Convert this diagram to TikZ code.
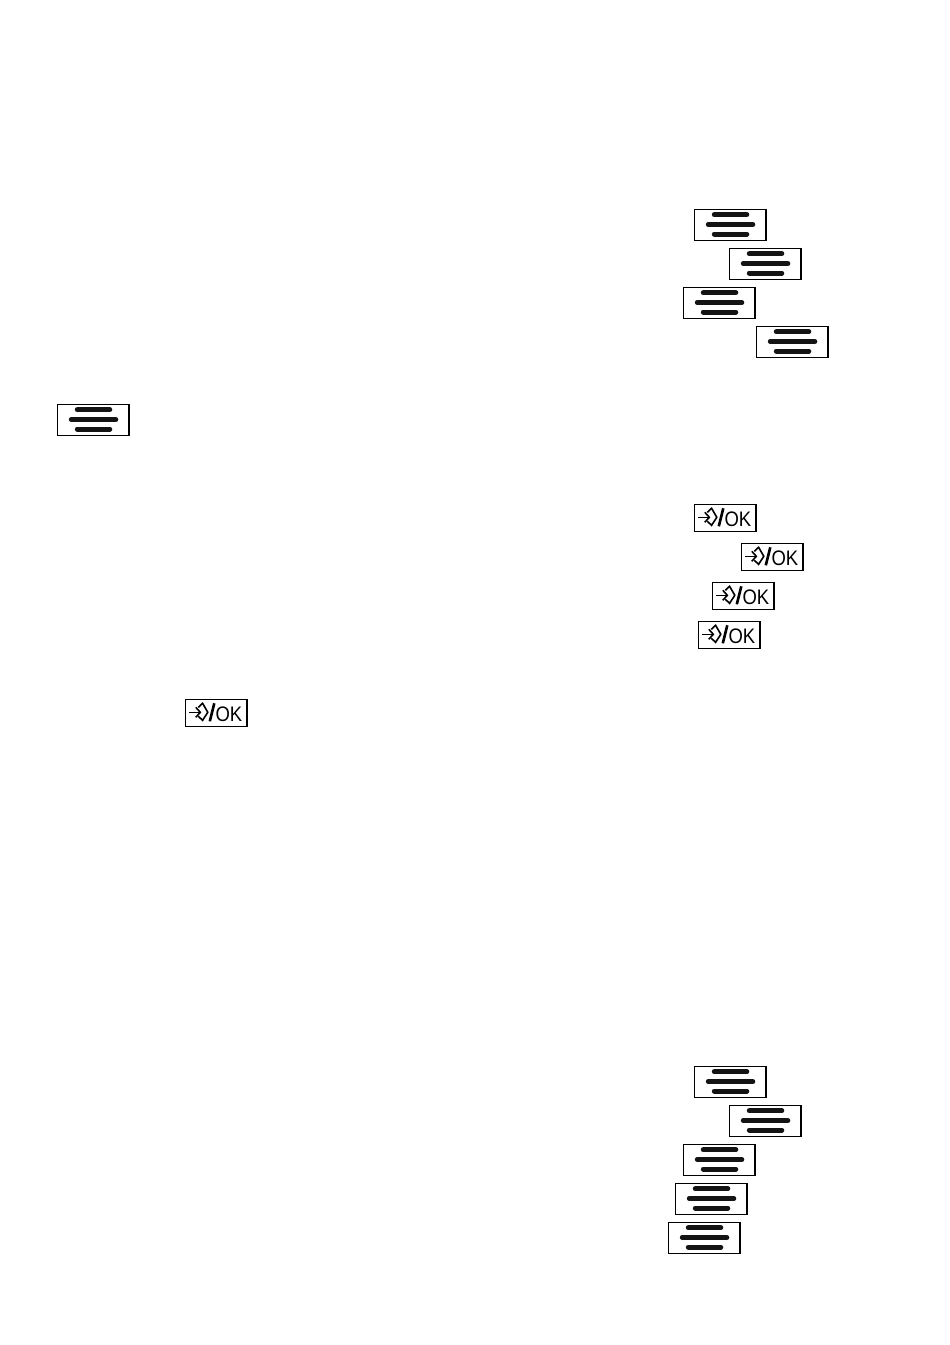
\documentclass[tikz,border=0pt]{standalone}
\usepackage{fontspec}
\setmainfont{Liberation Sans}
\newfontfamily\okfont[FakeStretch=0.88]{Liberation Sans}
\tikzset{
  keybox/.style={draw=black,line width=1.2pt,fill=white},
  menubar/.style={line width=5pt,line cap=round,draw=black!92},
  oktext/.style={font=\okfont\fontsize{21}{21}\selectfont,inner sep=0pt,anchor=base west},
  glyph/.style={line width=1.6pt,draw=black}
}
\newcommand{\menukey}[3]{%
  \begin{scope}[shift={(#1,#2)}]
    \node[keybox,minimum width=71.6pt,minimum height=31pt,inner sep=0pt,anchor=north west] (#3) at (0,0) {};
    \draw[menubar] (20.5,6) -- (53,6);
    \draw[menubar] (14.5,15.8) -- (59,15.8);
    \draw[menubar] (20.5,25.2) -- (53,25.2);
  \end{scope}}
\newcommand{\okkey}[3]{%
  \begin{scope}[shift={(#1,#2)}]
    \node[keybox,minimum width=61.6pt,minimum height=27pt,inner sep=0pt,anchor=north west] (#3) at (0,0) {};
    \draw[glyph] (4.5,13.5) -- (15,13.5);
    \draw[glyph] (11,8.5) -- (15.5,13.5) -- (11,18.5);
    \draw[glyph] (13.5,8.5) -- (17.8,4.5) -- (23,13.5) -- (17.8,21.5) -- (13.5,17.5);
    \draw[line width=2.6pt] (25,22.5) -- (29.5,4.5);
    \node[oktext] (#3t) at (30.5,22.3) {OK};
  \end{scope}}
\begin{document}
\begin{tikzpicture}[x=1pt,y=-1pt]
\useasboundingbox (0,0) rectangle (950,1345);
\menukey{693.8}{208.8}{ma}
\menukey{728.8}{247.8}{mb}
\menukey{682.8}{286.8}{mc}
\menukey{755.8}{325.8}{md}
\menukey{56.8}{403.8}{me}
\okkey{693.8}{503.8}{oa}
\okkey{740.8}{542.8}{ob}
\okkey{711.8}{581.8}{oc}
\okkey{697.8}{620.8}{od}
\okkey{184.8}{698.8}{oe}
\menukey{693.8}{1065.8}{mf}
\menukey{728.8}{1104.8}{mg}
\menukey{682.8}{1143.8}{mh}
\menukey{674.8}{1182.8}{mi}
\menukey{667.8}{1221.8}{mj}
\end{tikzpicture}
\end{document}
